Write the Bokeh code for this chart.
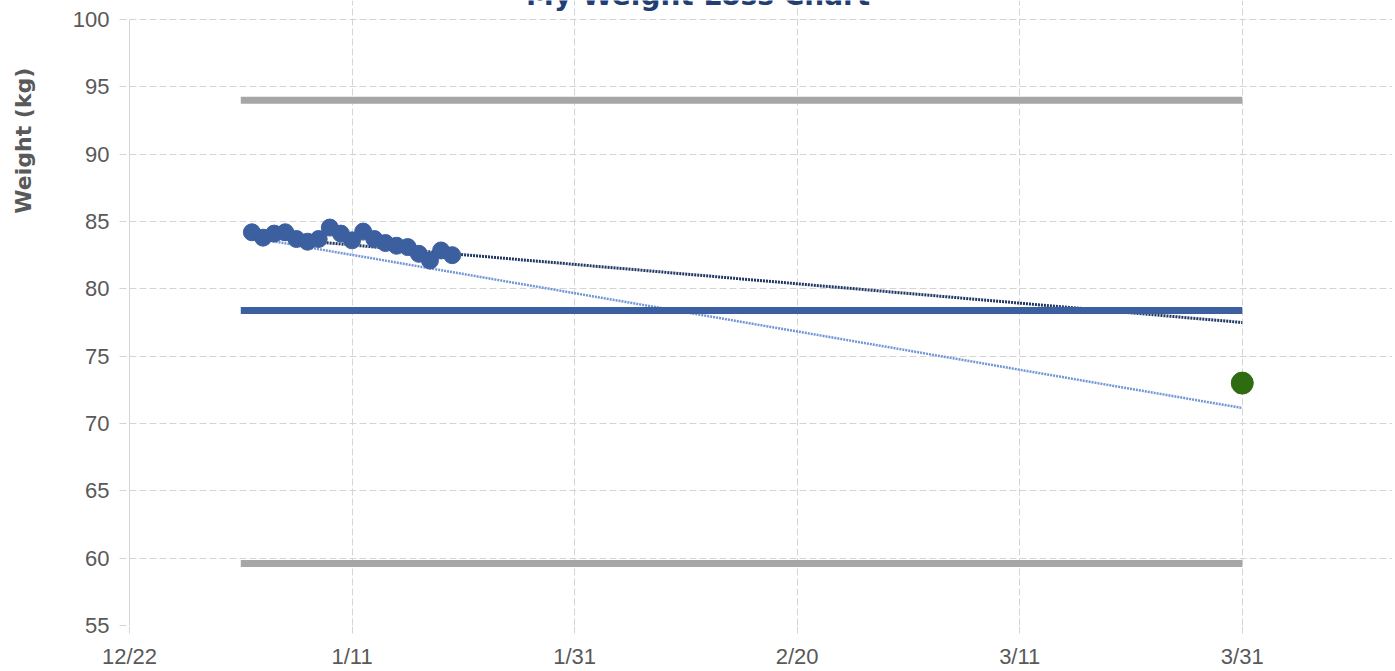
import numpy as np
import pandas as pd
from bokeh.plotting import figure
from bokeh.models import Label, FixedTicker, Range1d, LinearAxis
from bokeh.embed import file_html
from bokeh.resources import INLINE

# ---------------- data ----------------
origin_date = "2023-12-22"
x_end_days = 113.5
tick_dates = ["2023-12-22", "2024-01-11", "2024-01-31", "2024-02-20", "2024-03-11", "2024-03-31"]
tick_labels = ["12/22", "1/11", "1/31", "2/20", "3/11", "3/31"]
y_ticks = [55, 60, 65, 70, 75, 80, 85, 90, 95, 100]

weigh_dates = ["2024-01-02", "2024-01-03", "2024-01-04", "2024-01-05", "2024-01-06",
               "2024-01-07", "2024-01-08", "2024-01-09", "2024-01-10", "2024-01-11",
               "2024-01-12", "2024-01-13", "2024-01-14", "2024-01-15", "2024-01-16",
               "2024-01-17", "2024-01-18", "2024-01-19", "2024-01-20"]
weights = [84.2, 83.8, 84.1, 84.2, 83.7, 83.5, 83.7, 84.55, 84.1, 83.6,
           84.25, 83.7, 83.4, 83.2, 83.1, 82.6, 82.1, 82.85, 82.5]

band_dates = ["2024-01-01", "2024-03-31"]
upper_limit = [94.0, 94.0]
lower_limit = [59.6, 59.6]
goal_level = [78.4, 78.4]

trend_dates = ["2024-01-02", "2024-03-31"]
trend_actual = [83.9, 77.5]
trend_required = [83.8, 71.15]

target_date = ["2024-03-31"]
target_weight = [73.0]

title_text = "My Weight Loss Chart"
y_label_text = "Weight (kg)"

# ---------------- helpers ----------------
t0 = pd.Timestamp(origin_date)
def days(ds):
    return [(pd.Timestamp(d) - t0).days for d in ds]

tick_x = days(tick_dates)
y_lo, y_hi = y_ticks[0], y_ticks[-1]
px_per_unit = 606.0 / (y_hi - y_lo)          # frame pixels per kg (data area)
y_top = y_hi + 19.0 / px_per_unit            # frame runs up to the canvas top (title area)

FONT = "Liberation Sans"
LABEL_FONT = "DejaVu Sans"
GRID = "#d4d4d4"
TXT = "#595959"

p = figure(width=1395, height=671, output_backend="svg", toolbar_location=None,
           x_range=Range1d(0, x_end_days), y_range=Range1d(y_lo, y_top),
           min_border_left=129, min_border_right=3, min_border_top=0, min_border_bottom=46)
p.outline_line_color = None
p.background_fill_color = "white"

# x axis
p.xaxis.ticker = FixedTicker(ticks=tick_x)
p.xaxis.major_label_overrides = {tx: lab for tx, lab in zip(tick_x, tick_labels)}
p.xaxis.axis_line_color = None
p.xaxis.major_tick_in = 0
p.xaxis.major_tick_out = 8
p.xaxis.major_tick_line_color = GRID
p.xaxis.major_tick_line_dash = "7 3"
p.xaxis.minor_tick_line_color = None
p.xaxis.major_label_standoff = 10
p.xaxis.major_label_text_font = FONT
p.xaxis.major_label_text_font_size = "22px"
p.xaxis.major_label_text_color = TXT

# y axis
p.yaxis.ticker = FixedTicker(ticks=y_ticks)
p.yaxis.bounds = (y_lo, y_hi)
p.yaxis.axis_line_color = GRID
p.yaxis.major_tick_in = 0
p.yaxis.major_tick_out = 10
p.yaxis.major_tick_line_color = GRID
p.yaxis.major_tick_line_dash = "7 3"
p.yaxis.minor_tick_line_color = None
p.yaxis.major_label_standoff = 10
p.yaxis.major_label_text_font = FONT
p.yaxis.major_label_text_font_size = "22px"
p.yaxis.major_label_text_color = TXT

# outer axis carrying only the axis title; leading no-break spaces lift the
# visible words toward the top of the chart, where the reference has them
label_pad = "\u00a0" * 45
label_axis = LinearAxis(ticker=FixedTicker(ticks=[]), bounds=(y_lo, y_hi),
                        axis_line_color=None, major_tick_line_color=None,
                        minor_tick_line_color=None, major_tick_out=0, major_tick_in=0,
                        minor_tick_out=0, minor_tick_in=0, major_label_standoff=0,
                        axis_label=label_pad + y_label_text, axis_label_standoff=34,
                        axis_label_text_font=LABEL_FONT, axis_label_text_font_size="22px",
                        axis_label_text_font_style="bold", axis_label_text_color=TXT)
p.add_layout(label_axis, "left")

# grids
p.xgrid.ticker = FixedTicker(ticks=tick_x)
p.xgrid.bounds = (y_lo, y_hi)
p.ygrid.ticker = FixedTicker(ticks=y_ticks)
for g in (p.xgrid, p.ygrid):
    g.grid_line_color = GRID
    g.grid_line_dash = "7 3"
    g.grid_line_width = 1

# trend lines
tx = days(trend_dates)
p.line(tx, trend_required, line_color="#7396d6", line_width=2.5, line_dash="2 1")
p.line(tx, trend_actual, line_color="#1f3864", line_width=3, line_dash="2 1")

# horizontal reference lines
bx = days(band_dates)
p.line(bx, upper_limit, line_color="#a6a6a6", line_width=7, line_cap="butt")
p.line(bx, lower_limit, line_color="#a6a6a6", line_width=7, line_cap="butt")
p.line(bx, goal_level, line_color="#3c5f9f", line_width=7, line_cap="butt")

# weigh-ins
p.scatter(days(weigh_dates), weights, size=17, fill_color="#3c5f9f", line_color="#3c5f9f")

# target
p.scatter(days(target_date), target_weight, size=22, fill_color="#2f6b10", line_color="#2f6b10")

# chart title: sits at the very top edge (mostly cut off, as in the reference)
p.add_layout(Label(x=51.1, y=y_hi + 24.5 / px_per_unit, text=title_text,
                   text_align="center", text_baseline="alphabetic", text_font=LABEL_FONT,
                   text_font_size="28px", text_font_style="bold", text_color="#213f75"))

open("out.html", "w").write(file_html(p, INLINE))
